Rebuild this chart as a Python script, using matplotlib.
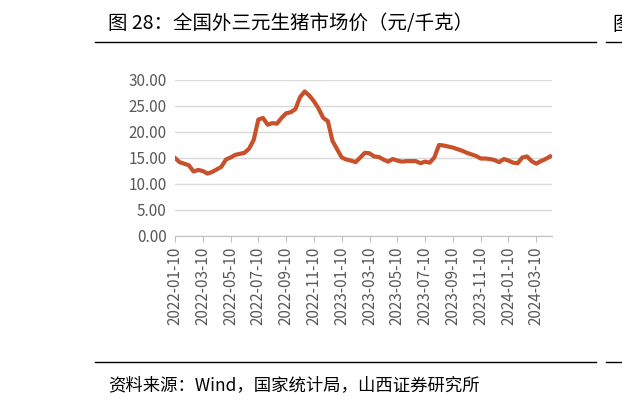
import matplotlib
matplotlib.use("Agg")
import matplotlib.pyplot as plt
from matplotlib.lines import Line2D

plt.rcParams['font.family'] = ['Noto Sans CJK SC', 'DejaVu Sans']

# ==== 数据（约每10天一个点）====
prices = [15.0, 14.2, 13.9, 13.6, 12.4, 12.7, 12.5, 12.0, 12.3, 12.8,
          13.3, 14.7, 15.1, 15.6, 15.8, 16.0, 16.8, 18.5, 22.4, 22.7,
          21.4, 21.7, 21.6, 22.7, 23.6, 23.8, 24.4, 26.7, 27.8, 27.0,
          25.9, 24.5, 22.7, 22.1, 18.3, 16.7, 15.1, 14.7, 14.5, 14.2,
          15.1, 16.0, 15.9, 15.3, 15.2, 14.7, 14.3, 14.8, 14.5, 14.3,
          14.4, 14.4, 14.4, 14.0, 14.3, 14.1, 15.1, 17.5, 17.4, 17.2,
          17.0, 16.7, 16.4, 16.0, 15.7, 15.4, 14.9, 14.9, 14.8, 14.6,
          14.2, 14.8, 14.5, 14.1, 14.0, 15.1, 15.3, 14.4, 13.9, 14.4,
          14.8, 15.3]
tick_labels = ["2022-01-10", "2022-03-10", "2022-05-10", "2022-07-10",
               "2022-09-10", "2022-11-10", "2023-01-10", "2023-03-10",
               "2023-05-10", "2023-07-10", "2023-09-10", "2023-11-10",
               "2024-01-10", "2024-03-10"]
tick_pos = [i * 6 for i in range(len(tick_labels))]

fig = plt.figure(figsize=(6.22, 4.09), dpi=100)
ax = fig.add_axes([175 / 622, 1 - 236 / 409, 377 / 622, 156 / 409])

ax.plot(range(len(prices)), prices, color="#C8502A", lw=3, solid_joinstyle="round")
ax.set_xlim(0, len(prices) - 0.6)
ax.set_ylim(0, 30)
ax.set_yticks([0, 5, 10, 15, 20, 25, 30])
ax.set_yticklabels([f"{v:.2f}" for v in [0, 5, 10, 15, 20, 25, 30]])
ax.set_xticks(tick_pos)
ax.set_xticklabels(tick_labels, rotation=90)
ax.tick_params(axis="y", length=0, labelsize=11, colors="#595959", pad=6)
ax.tick_params(axis="x", length=4, color="#BFBFBF", labelsize=11, labelcolor="#595959")
ax.grid(axis="y", color="#D9D9D9", lw=1)
ax.set_axisbelow(True)
for s in ["top", "right", "left"]:
    ax.spines[s].set_visible(False)
ax.spines["bottom"].set_color("#BFBFBF")

# ==== 标题、来源与分隔线 ====
fig.text(108 / 622, 1 - 24 / 409, "图 28：全国外三元生猪市场价（元/千克）",
         fontsize=14, va="center", ha="left", color="#000000")
# 右侧被截断的下一张图标题（参考图中即如此）
fig.text(612 / 622, 1 - 24 / 409, "图", fontsize=14, va="center", ha="left")
fig.text(108 / 622, 1 - 385 / 409, "资料来源：Wind，国家统计局，山西证券研究所",
         fontsize=12.5, va="center", ha="left")
fig.add_artist(Line2D([95 / 622, 596 / 622], [1 - 42 / 409] * 2, color="black", lw=1))
fig.add_artist(Line2D([95 / 622, 596 / 622], [1 - 362 / 409] * 2, color="black", lw=1))
fig.add_artist(Line2D([606 / 622, 622 / 622], [1 - 42 / 409] * 2, color="black", lw=1))
fig.add_artist(Line2D([606 / 622, 622 / 622], [1 - 362 / 409] * 2, color="black", lw=1))

fig.savefig("out.png", dpi=100)
